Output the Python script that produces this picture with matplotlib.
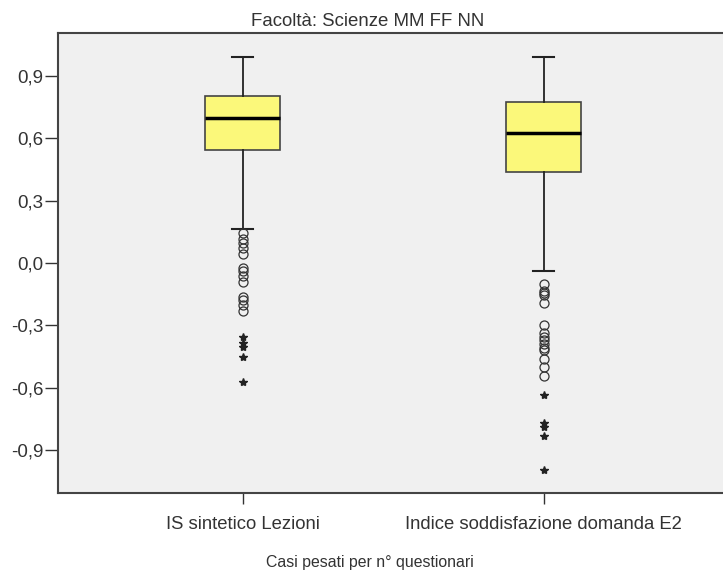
import matplotlib
matplotlib.use("Agg")
import matplotlib.pyplot as plt
from matplotlib.ticker import FuncFormatter

plt.rcParams['font.family'] = ['Liberation Sans', 'DejaVu Sans']

categories = ["IS sintetico Lezioni", "Indice soddisfazione domanda E2"]

q1 = [0.545, 0.439]
median = [0.699, 0.627]
q3 = [0.805, 0.776]
whisker_low = [0.164, -0.039]
whisker_high = [0.993, 0.993]

# outliers (circles) and extreme values (stars)
outliers = [
    [0.143, 0.114, 0.095, 0.071, 0.043, -0.026, -0.037, -0.063, -0.090,
     -0.165, -0.178, -0.202, -0.230],
    [-0.103, -0.133, -0.146, -0.154, -0.191, -0.299, -0.336, -0.358, -0.371,
     -0.392, -0.411, -0.419, -0.464, -0.500, -0.545],
]
extremes = [
    [-0.358, -0.384, -0.403, -0.452, -0.575],
    [-0.636, -0.770, -0.789, -0.832, -0.998],
]

yticks = [-0.9, -0.6, -0.3, 0.0, 0.3, 0.6, 0.9]

fig = plt.figure(figsize=(7.23, 5.71), dpi=100)
ax = fig.add_axes([58 / 723, 1 - 493 / 571, 1 - 58 / 723 + 0.01, 460 / 571])
ax.set_facecolor('#f0f0f0')

stats = []
for i, name in enumerate(categories):
    stats.append(dict(label=name, med=median[i], q1=q1[i], q3=q3[i],
                      whislo=whisker_low[i], whishi=whisker_high[i], fliers=[]))

positions = [1, 2]
ax.bxp(stats, positions=positions, widths=0.25, patch_artist=True,
       showfliers=False,
       boxprops=dict(facecolor='#fbf87a', edgecolor='#444444', linewidth=1.2),
       medianprops=dict(color='black', linewidth=2.5),
       whiskerprops=dict(color='#222222', linewidth=1.3),
       capprops=dict(color='#222222', linewidth=1.5),
       capwidths=0.07)

for pos, vals in zip(positions, outliers):
    ax.plot([pos] * len(vals), vals, linestyle='none', marker='o',
            markersize=6.5, markerfacecolor='none', markeredgecolor='#333333',
            markeredgewidth=0.9)
for pos, vals in zip(positions, extremes):
    ax.plot([pos] * len(vals), vals, linestyle='none', marker='*',
            markersize=6, color='#222222')

ax.set_xlim(0.387, 2.62)
ax.set_ylim(-1.108, 1.108)
ax.set_yticks(yticks)
ax.yaxis.set_major_formatter(FuncFormatter(lambda v, p: f"{v:.1f}".replace('.', ',')))
ax.set_xticks(positions)
ax.set_xticklabels(categories)
ax.tick_params(axis='y', length=9.4, width=1, color='#333333', labelsize=13.5,
               pad=1, labelcolor='#333333')
ax.tick_params(axis='x', length=8, width=1, color='#333333', labelsize=13.3,
               pad=8.5, labelcolor='#333333')

for side in ['left', 'bottom', 'top']:
    ax.spines[side].set_color('#444444')
    ax.spines[side].set_linewidth(1.5)
ax.spines['right'].set_visible(False)

fig.text(368 / 723, 1 - 22 / 571, "Facoltà: Scienze MM FF NN", ha='center',
         va='center', fontsize=13.4, color='#333333')
fig.text(370 / 723, 1 - 562 / 571, "Casi pesati per n° questionari", ha='center',
         va='center', fontsize=11.4, color='#333333')

fig.savefig("out.png", dpi=100, facecolor='white')
